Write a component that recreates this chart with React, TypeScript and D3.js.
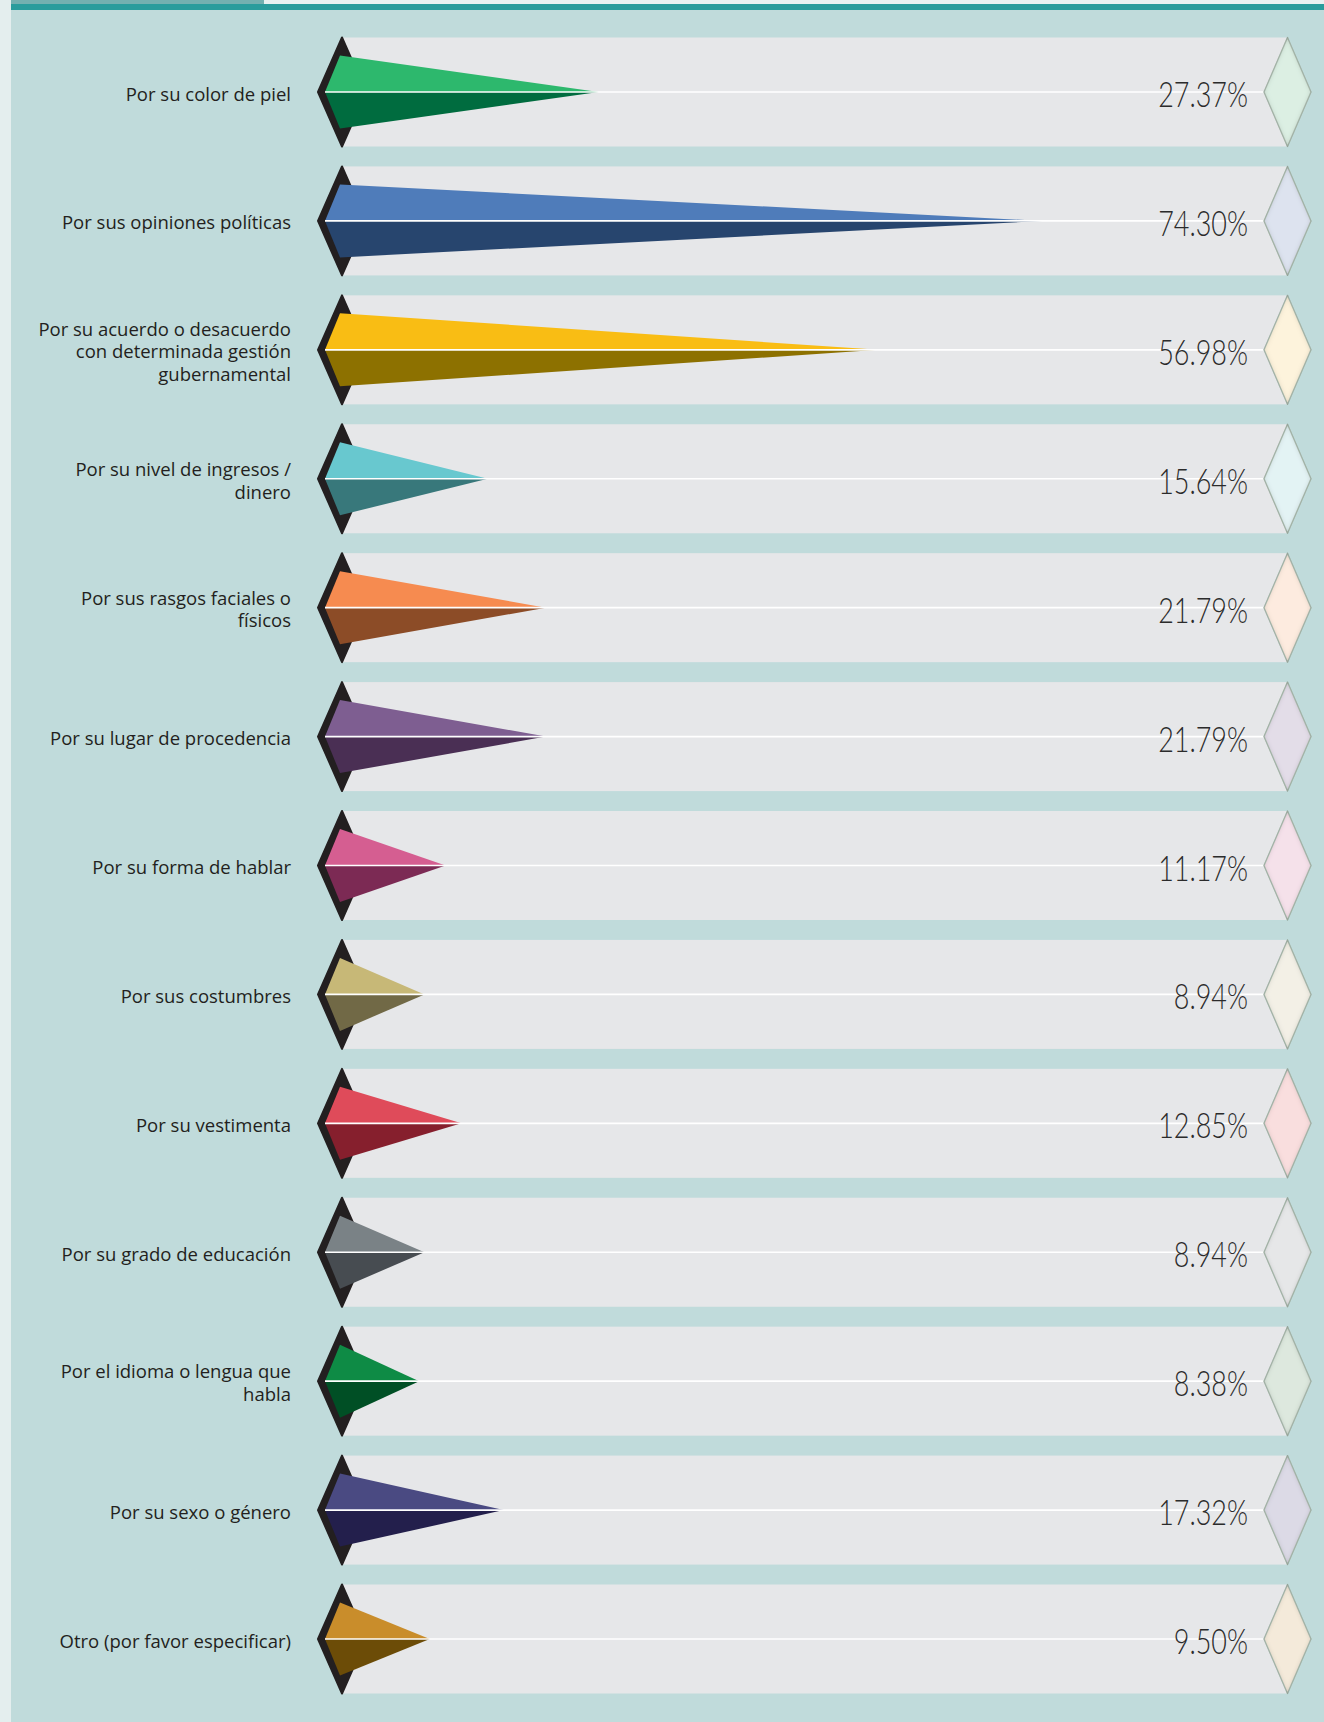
import React from "react";
import * as d3 from "d3";

const categories: string[] = [
  "Por su color de piel",
  "Por sus opiniones políticas",
  "Por su acuerdo o desacuerdo\ncon determinada gestión\ngubernamental",
  "Por su nivel de ingresos /\ndinero",
  "Por sus rasgos faciales o\nfísicos",
  "Por su lugar de procedencia",
  "Por su forma de hablar",
  "Por sus costumbres",
  "Por su vestimenta",
  "Por su grado de educación",
  "Por el idioma o lengua que\nhabla",
  "Por su sexo o género",
  "Otro (por favor especificar)",
];

const values: number[] = [27.37, 74.3, 56.98, 15.64, 21.79, 21.79, 11.17, 8.94, 12.85, 8.94, 8.38, 17.32, 9.5];

const valueLabels: string[] = [
  "27.37%", "74.30%", "56.98%", "15.64%", "21.79%", "21.79%", "11.17%",
  "8.94%", "12.85%", "8.94%", "8.38%", "17.32%", "9.50%",
];

const lightColors: string[] = [
  "#2db86d", "#4f7cba", "#f9bd14", "#68c8cf", "#f68b50", "#7e5e91", "#d55e91",
  "#c7b877", "#df4b5a", "#7a8286", "#0e8b45", "#4a4a82", "#c98d2b",
];
const darkColors: string[] = [
  "#006c3f", "#27456e", "#8d7100", "#38787b", "#8c4c27", "#4a2f54", "#7c2a54",
  "#716946", "#861f2d", "#474c51", "#004f25", "#231f4c", "#6c4c07",
];
const tintColors: string[] = [
  "#dcefe3", "#dde3ef", "#fdf3dc", "#e3f3f4", "#fdebdf", "#e3dde8", "#f5e1ea",
  "#f3f0e6", "#f9dede", "#e6e7e8", "#dde8de", "#dcdae6", "#f4eada",
];

const W = 1324;
const H = 1722;

export default function App() {
  const x = d3.scaleLinear().domain([0, 100]).range([340, 1285]);
  const y = d3.scalePoint<string>().domain(categories).range([92, 1639]);
  const halfBand = 54.5;
  const triHalf = 36.5;
  const bandLeft = 342;
  const bandRight = 1287.5;
  const diamondCx = 1287.5;
  const line = d3.line();

  return (
    <svg
      width={W}
      height={H}
      style={{ position: "absolute", left: 0, top: 0, display: "block" }}
      xmlns="http://www.w3.org/2000/svg"
    >
      <defs>
        <filter id="inset" x="-20%" y="-20%" width="140%" height="140%">
          <feFlood floodColor="#000" floodOpacity="0.42" result="flood" />
          <feComposite in="flood" in2="SourceAlpha" operator="out" result="outside" />
          <feGaussianBlur in="outside" stdDeviation="2.5" result="blur" />
          <feComposite in="blur" in2="SourceAlpha" operator="in" result="shadow" />
          <feMerge>
            <feMergeNode in="SourceGraphic" />
            <feMergeNode in="shadow" />
          </feMerge>
        </filter>
      </defs>
      {/* backgrounds */}
      <rect x={0} y={0} width={W} height={H} fill="#e4eeee" />
      <rect x={11} y={0} width={W - 11} height={H} fill="#c0dbdb" />
      <rect x={11} y={0} width={W - 11} height={4} fill="#e8f1f1" />
      <rect x={11} y={0} width={253} height={4} fill="#74b0b0" />
      <rect x={11} y={4} width={W - 11} height={6} fill="#2a9c9c" />

      {categories.map((c, i) => {
        const cy = y(c) as number;
        const xa = x(values[i]);
        const lines = c.split("\n");
        const lh = 22.5;
        const startY = cy - ((lines.length - 1) * lh) / 2 + 8.5;
        const blackPath = line([
          [318, cy],
          [342, cy - halfBand],
          [366, cy],
          [342, cy + halfBand],
        ]) + "Z";
        const upper = line([
          [325, cy],
          [340, cy - triHalf],
          [xa, cy],
        ]) + "Z";
        const lower = line([
          [325, cy],
          [340, cy + triHalf],
          [xa, cy],
        ]) + "Z";
        const dia = line([
          [diamondCx - 23.5, cy],
          [diamondCx, cy - halfBand],
          [diamondCx + 23.5, cy],
          [diamondCx, cy + halfBand],
        ]) + "Z";
        return (
          <g key={i}>
            <rect x={bandLeft} y={cy - halfBand} width={bandRight - bandLeft} height={halfBand * 2} fill="#e6e7e9" />
            <path d={blackPath} fill="#231f20" stroke="#231f20" strokeWidth={2} strokeLinejoin="round" />
            <path d={upper} fill={lightColors[i]} />
            <path d={lower} fill={darkColors[i]} />
            <line x1={325} x2={bandRight} y1={cy} y2={cy} stroke="#ffffff" strokeWidth={1.6} />
            <text
              transform={`translate(1248,${cy + 15}) scale(0.77,1)`}
              textAnchor="end"
              fontFamily="Lato, 'Open Sans', sans-serif"
              fontWeight={300}
              fontSize={35}
              fill="#2b2b2b"
            >
              {valueLabels[i]}
            </text>
            <path d={dia} fill={tintColors[i]} stroke="#b1c2b5" strokeWidth={1.3} strokeLinejoin="round" filter="url(#inset)" />
            <text
              textAnchor="end"
              fontFamily="'Open Sans', 'Noto Sans', sans-serif"
              fontSize={18.5}
              fill="#231f20"
            >
              {lines.map((l, k) => (
                <tspan key={k} x={291} y={startY + k * lh}>
                  {l}
                </tspan>
              ))}
            </text>
          </g>
        );
      })}
    </svg>
  );
}
